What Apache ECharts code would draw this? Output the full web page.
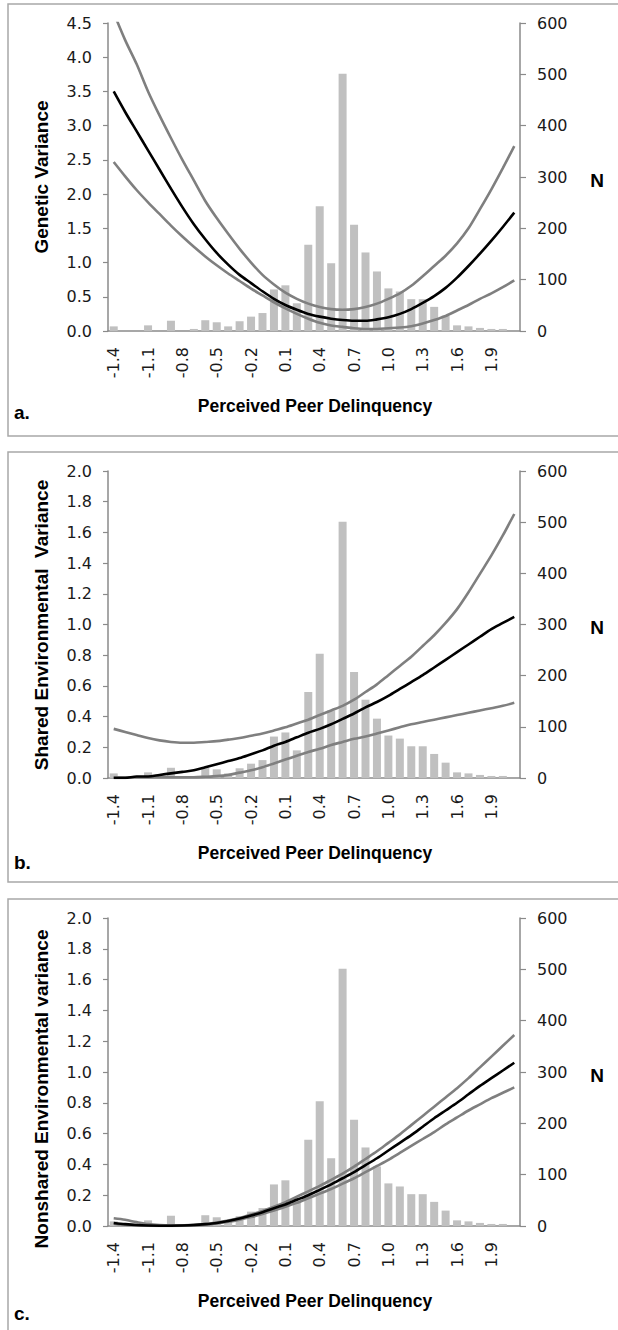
<!DOCTYPE html>
<html><head><meta charset="utf-8">
<script src="https://cdn.jsdelivr.net/npm/echarts@6/dist/echarts.min.js"></script>
<style>html,body{margin:0;padding:0;background:#fff}#c{width:618px;height:1330px}</style>
</head><body><div id="c"></div>
<script>
// ---- data ----
const categories = ['-1.4','-1.3','-1.2','-1.1','-1.0','-0.9','-0.8','-0.7','-0.6','-0.5','-0.4','-0.3','-0.2','-0.1','0.0','0.1','0.2','0.3','0.4','0.5','0.6','0.7','0.8','0.9','1.0','1.1','1.2','1.3','1.4','1.5','1.6','1.7','1.8','1.9','2.0','2.1'];
const sampleN = [9,0,0,11,0,20,0,4,21,17,9,19,28,35,81,89,54,168,243,132,501,207,153,116,83,77,62,62,47,30,11,9,6,4,4,0];

const geneticEst   = [3.50,3.20,2.92,2.64,2.36,2.08,1.81,1.56,1.34,1.14,0.97,0.82,0.70,0.58,0.47,0.38,0.31,0.25,0.21,0.18,0.16,0.15,0.15,0.17,0.20,0.25,0.32,0.41,0.51,0.63,0.78,0.95,1.13,1.32,1.52,1.73];
const geneticUpper = [4.65,4.25,3.90,3.50,3.15,2.82,2.50,2.20,1.90,1.65,1.42,1.20,1.00,0.82,0.68,0.56,0.47,0.40,0.35,0.32,0.31,0.32,0.35,0.40,0.47,0.55,0.66,0.80,0.95,1.10,1.28,1.50,1.78,2.07,2.38,2.70];
const geneticLower = [2.47,2.26,2.06,1.88,1.71,1.54,1.38,1.23,1.09,0.96,0.84,0.73,0.62,0.52,0.42,0.33,0.25,0.18,0.12,0.08,0.06,0.04,0.03,0.03,0.04,0.05,0.07,0.11,0.16,0.22,0.30,0.38,0.47,0.55,0.64,0.74];

const sharedEst   = [0.00,0.00,0.01,0.01,0.02,0.03,0.04,0.05,0.07,0.09,0.11,0.13,0.155,0.18,0.21,0.235,0.265,0.295,0.32,0.35,0.385,0.42,0.46,0.495,0.535,0.58,0.625,0.67,0.72,0.77,0.82,0.87,0.92,0.97,1.01,1.05];
const sharedUpper = [0.32,0.30,0.28,0.26,0.245,0.235,0.23,0.23,0.235,0.24,0.25,0.26,0.275,0.29,0.31,0.33,0.355,0.38,0.41,0.44,0.47,0.51,0.56,0.61,0.67,0.73,0.79,0.86,0.93,1.01,1.10,1.21,1.33,1.45,1.58,1.72];
const sharedLower = [0.005,0.005,0.005,0.005,0.005,0.005,0.005,0.005,0.008,0.012,0.02,0.035,0.05,0.07,0.095,0.12,0.145,0.17,0.19,0.215,0.235,0.255,0.27,0.29,0.31,0.33,0.35,0.365,0.38,0.395,0.41,0.425,0.44,0.455,0.47,0.49];

const nonsharedEst   = [0.02,0.012,0.006,0.003,0.002,0.002,0.003,0.006,0.012,0.02,0.032,0.048,0.068,0.09,0.115,0.14,0.17,0.20,0.235,0.27,0.31,0.35,0.395,0.44,0.49,0.54,0.59,0.645,0.70,0.75,0.80,0.855,0.91,0.96,1.01,1.06];
const nonsharedUpper = [0.05,0.04,0.025,0.012,0.006,0.004,0.004,0.007,0.013,0.022,0.035,0.052,0.074,0.098,0.125,0.155,0.19,0.225,0.26,0.30,0.34,0.385,0.435,0.485,0.54,0.595,0.655,0.715,0.775,0.835,0.895,0.96,1.03,1.10,1.17,1.24];
const nonsharedLower = [0.015,0.008,0.004,0.002,0.001,0.001,0.002,0.004,0.009,0.016,0.027,0.041,0.058,0.078,0.10,0.125,0.15,0.18,0.21,0.24,0.275,0.31,0.35,0.39,0.43,0.475,0.52,0.565,0.61,0.66,0.705,0.75,0.79,0.83,0.865,0.90];

const yTitles = ['Genetic Variance','Shared Environmental  Variance','Nonshared Environmental variance'];
const panelLetters = ['a.','b.','c.'];
const xTitle = 'Perceived Peer Delinquency';
const nTitle = 'N';

// ---- layout / style ----
const layout = [
  {top:23, height:308, yMax:4.5, yInt:0.5, boxTop:4, boxH:432, titleY:177, letterY:412},
  {top:471, height:307, yMax:2.0, yInt:0.2, boxTop:452, boxH:430, titleY:625, letterY:862},
  {top:918, height:308, yMax:2.0, yInt:0.2, boxTop:899, boxH:520, titleY:1089, letterY:1313}
];
const seriesSets = [
  [geneticEst, geneticUpper, geneticLower],
  [sharedEst, sharedUpper, sharedLower],
  [nonsharedEst, nonsharedUpper, nonsharedLower]
];
const GRID_LEFT = 108, GRID_W = 412;
const AXIS_COL = '#8a8a8a', BAR_COL = '#c0c0c0', CI_COL = '#7f7f7f', TXT = '#1a1a1a';
const NUM_FONT = 'DejaVu Sans';
const TITLE_FONT = '"Liberation Sans", Arial, sans-serif';

const grid = [], xAxis = [], yAxis = [], series = [], graphic = [];
layout.forEach((L, p) => {
  grid.push({left: GRID_LEFT, width: GRID_W, top: L.top, height: L.height});
  xAxis.push({
    type: 'category', gridIndex: p, data: categories, boundaryGap: true,
    axisLine: {lineStyle: {color: AXIS_COL, width: 1.5}},
    axisTick: {interval: 0, length: 5, lineStyle: {color: AXIS_COL, width: 1.2}},
    axisLabel: {interval: 2, rotate: 90, margin: 16, color: TXT, fontFamily: NUM_FONT, fontSize: 16}
  });
  yAxis.push({
    type: 'value', gridIndex: p, min: 0, max: L.yMax, interval: L.yInt, position: 'left',
    axisLine: {show: true, lineStyle: {color: AXIS_COL, width: 1.5}},
    axisTick: {show: true, length: 5, lineStyle: {color: AXIS_COL, width: 1.2}},
    splitLine: {show: false},
    axisLabel: {margin: 16, color: TXT, fontFamily: NUM_FONT, fontSize: 16, formatter: v => v.toFixed(1)}
  });
  yAxis.push({
    type: 'value', gridIndex: p, min: 0, max: 600, interval: 100, position: 'right',
    axisLine: {show: true, lineStyle: {color: AXIS_COL, width: 1.5}},
    axisTick: {show: true, length: 6, lineStyle: {color: AXIS_COL, width: 1.2}},
    splitLine: {show: false},
    axisLabel: {margin: 17, color: TXT, fontFamily: NUM_FONT, fontSize: 16}
  });
  series.push({
    type: 'bar', xAxisIndex: p, yAxisIndex: 2*p+1, data: sampleN, barWidth: 8,
    itemStyle: {color: BAR_COL}, silent: true, z: 1
  });
  const [est, up, lo] = seriesSets[p];
  [[up, CI_COL], [lo, CI_COL], [est, '#000']].forEach(([d, c]) => {
    series.push({
      type: 'line', xAxisIndex: p, yAxisIndex: 2*p, data: d, symbol: 'none',
      smooth: 0.3, clip: true, silent: true, z: 3,
      lineStyle: {color: c, width: 2.6}
    });
  });
  graphic.push({type: 'rect', silent: true, z: 0,
    shape: {x: 8, y: L.boxTop, width: 640, height: L.boxH},
    style: {fill: 'none', stroke: '#a8a8a8', lineWidth: 1.5}});
  graphic.push({type: 'text', silent: true, x: 41, y: L.titleY, rotation: Math.PI/2,
    style: {text: yTitles[p], fill: '#000', font: 'bold 19px ' + TITLE_FONT, align: 'center', verticalAlign: 'middle'}});
  graphic.push({type: 'text', silent: true, x: 315, y: L.top + L.height + 75,
    style: {text: xTitle, fill: '#000', font: 'bold 17.5px ' + TITLE_FONT, align: 'center', verticalAlign: 'middle'}});
  graphic.push({type: 'text', silent: true, x: 597, y: L.top + L.height/2 + 3,
    style: {text: nTitle, fill: '#000', font: 'bold 19px ' + TITLE_FONT, align: 'center', verticalAlign: 'middle'}});
  graphic.push({type: 'text', silent: true, x: 14, y: L.letterY,
    style: {text: panelLetters[p], fill: '#000', font: 'bold 19px ' + TITLE_FONT, align: 'left', verticalAlign: 'middle'}});
});

const chart = echarts.init(document.getElementById('c'), null, {renderer: 'svg', width: 618, height: 1330});
chart.setOption({animation: false, backgroundColor: '#fff', grid, xAxis, yAxis, series, graphic});
</script>
</body></html>
